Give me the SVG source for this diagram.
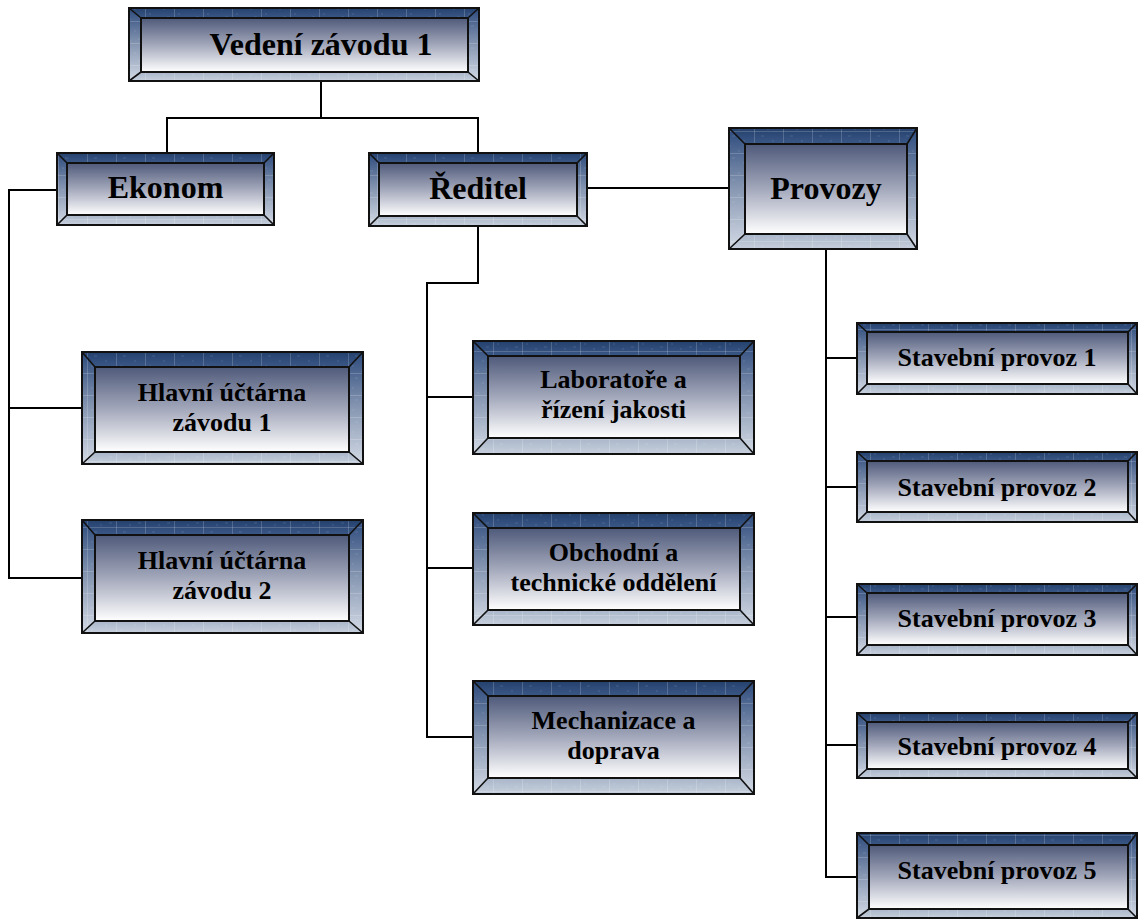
<svg xmlns="http://www.w3.org/2000/svg" width="1138" height="920" viewBox="0 0 1138 920">
  <defs>
    <linearGradient id="gFace" x1="0" y1="0" x2="0" y2="1">
      <stop offset="0" stop-color="#4f5a7a"/>
      <stop offset="0.5" stop-color="#a3a8bb"/>
      <stop offset="1" stop-color="#ffffff"/>
    </linearGradient>
    <linearGradient id="gTop" x1="0" y1="0" x2="0" y2="1">
      <stop offset="0" stop-color="#24416e"/>
      <stop offset="1" stop-color="#3a5786"/>
    </linearGradient>
    <linearGradient id="gSide" x1="0" y1="0" x2="0" y2="1">
      <stop offset="0" stop-color="#2c4a7c"/>
      <stop offset="0.5" stop-color="#8797b2"/>
      <stop offset="1" stop-color="#d3dae5"/>
    </linearGradient>
    <linearGradient id="gBottom" x1="0" y1="0" x2="0" y2="1">
      <stop offset="0" stop-color="#a9b6c9"/>
      <stop offset="1" stop-color="#c6cfdc"/>
    </linearGradient>
    <!-- faint stone-like grid on the frame bevels -->
    <pattern id="pGrain" width="29" height="22" patternUnits="userSpaceOnUse">
      <path d="M0.5 0V22M0 21.5H29" stroke="#ffffff" stroke-opacity="0.18" stroke-width="1" fill="none"/>
      <path d="M7 4h3M18 9h2M4 14h2M22 17h3M13 19h2" stroke="#ffffff" stroke-opacity="0.12" stroke-width="1"/>
    </pattern>
  </defs>
  <style>
    .bt { fill: url(#gTop); }
    .bs { fill: url(#gSide); }
    .bb { fill: url(#gBottom); }
    .grain { fill: url(#pGrain); fill-rule: evenodd; }
    .face { fill: url(#gFace); stroke: #111; stroke-width: 2; }
    .frame { fill: none; stroke: #111; stroke-width: 2; }
    .diag { stroke: #111; stroke-width: 1.6; }
    .conn { fill: none; stroke: #000; stroke-width: 2; }
    text { font-family: "Liberation Serif", "Times New Roman", serif; font-weight: bold; fill: #000; text-anchor: middle; }
    .big { font-size: 32px; }
    .small { font-size: 26px; }
  </style>

  <rect width="1138" height="920" fill="#ffffff"/>

  <g id="connectors">
    <path class="conn" d="M321 81V118M167 153V118H478V153"/>
    <path class="conn" d="M57 190H9V578H82M9 408H82"/>
    <path class="conn" d="M478 226V283H427V737H473M427 397H473M427 568H473"/>
    <path class="conn" d="M587 188H729"/>
    <path class="conn" d="M826 249V877H857M826 358H857M826 487H857M826 617H857M826 745H857"/>
  </g>

  <g id="n-vedeni">
    <polygon class="bt" points="129,8 479,8 468,18 141,18"/>
    <polygon class="bs" points="129,8 141,18 141,72 129,81"/>
    <polygon class="bs" points="479,8 479,81 468,72 468,18"/>
    <polygon class="bb" points="129,81 141,72 468,72 479,81"/>
    <path class="grain" d="M129 8H479V81H129ZM141 18H468V72H141Z"/>
    <rect class="face" x="141" y="18" width="327" height="54"/>
    <path class="diag" d="M129 8L141 18M479 8L468 18M129 81L141 72M479 81L468 72"/>
    <rect class="frame" x="129" y="8" width="350" height="73"/>
    <text class="big" x="321" y="55">Vedení závodu 1</text>
  </g>

  <g id="n-ekonom">
    <polygon class="bt" points="57,153 274,153 264,163 67,163"/>
    <polygon class="bs" points="57,153 67,163 67,215 57,225"/>
    <polygon class="bs" points="274,153 274,225 264,215 264,163"/>
    <polygon class="bb" points="57,225 67,215 264,215 274,225"/>
    <path class="grain" d="M57 153H274V225H57ZM67 163H264V215H67Z"/>
    <rect class="face" x="67" y="163" width="197" height="52"/>
    <path class="diag" d="M57 153L67 163M274 153L264 163M57 225L67 215M274 225L264 215"/>
    <rect class="frame" x="57" y="153" width="217" height="72"/>
    <text class="big" x="165.5" y="198">Ekonom</text>
  </g>

  <g id="n-reditel">
    <polygon class="bt" points="369,153 587,153 577,163 379,163"/>
    <polygon class="bs" points="369,153 379,163 379,216 369,226"/>
    <polygon class="bs" points="587,153 587,226 577,216 577,163"/>
    <polygon class="bb" points="369,226 379,216 577,216 587,226"/>
    <path class="grain" d="M369 153H587V226H369ZM379 163H577V216H379Z"/>
    <rect class="face" x="379" y="163" width="198" height="53"/>
    <path class="diag" d="M369 153L379 163M587 153L577 163M369 226L379 216M587 226L577 216"/>
    <rect class="frame" x="369" y="153" width="218" height="73"/>
    <text class="big" x="478" y="199">Ředitel</text>
  </g>

  <g id="n-provozy">
    <polygon class="bt" points="729,128 917,128 907,144 745,144"/>
    <polygon class="bs" points="729,128 745,144 745,234 729,249"/>
    <polygon class="bs" points="917,128 917,249 907,234 907,144"/>
    <polygon class="bb" points="729,249 745,234 907,234 917,249"/>
    <path class="grain" d="M729 128H917V249H729ZM745 144H907V234H745Z"/>
    <rect class="face" x="745" y="144" width="162" height="90"/>
    <path class="diag" d="M729 128L745 144M917 128L907 144M729 249L745 234M917 249L907 234"/>
    <rect class="frame" x="729" y="128" width="188" height="121"/>
    <text class="big" x="826" y="199">Provozy</text>
  </g>

  <g id="n-uctarna1">
    <polygon class="bt" points="82,352 363,352 349,367 95,367"/>
    <polygon class="bs" points="82,352 95,367 95,452 82,464"/>
    <polygon class="bs" points="363,352 363,464 349,452 349,367"/>
    <polygon class="bb" points="82,464 95,452 349,452 363,464"/>
    <path class="grain" d="M82 352H363V464H82ZM95 367H349V452H95Z"/>
    <rect class="face" x="95" y="367" width="254" height="85"/>
    <path class="diag" d="M82 352L95 367M363 352L349 367M82 464L95 452M363 464L349 452"/>
    <rect class="frame" x="82" y="352" width="281" height="112"/>
    <text class="small" x="222" y="401">Hlavní účtárna</text>
    <text class="small" x="222" y="431">závodu 1</text>
  </g>

  <g id="n-uctarna2">
    <polygon class="bt" points="82,520 363,520 349,535 95,535"/>
    <polygon class="bs" points="82,520 95,535 95,621 82,633"/>
    <polygon class="bs" points="363,520 363,633 349,621 349,535"/>
    <polygon class="bb" points="82,633 95,621 349,621 363,633"/>
    <path class="grain" d="M82 520H363V633H82ZM95 535H349V621H95Z"/>
    <rect class="face" x="95" y="535" width="254" height="86"/>
    <path class="diag" d="M82 520L95 535M363 520L349 535M82 633L95 621M363 633L349 621"/>
    <rect class="frame" x="82" y="520" width="281" height="113"/>
    <text class="small" x="222" y="569">Hlavní účtárna</text>
    <text class="small" x="222" y="599">závodu 2</text>
  </g>

  <g id="n-laboratore">
    <polygon class="bt" points="473,341 754,341 740,356 488,356"/>
    <polygon class="bs" points="473,341 488,356 488,438 473,454"/>
    <polygon class="bs" points="754,341 754,454 740,438 740,356"/>
    <polygon class="bb" points="473,454 488,438 740,438 754,454"/>
    <path class="grain" d="M473 341H754V454H473ZM488 356H740V438H488Z"/>
    <rect class="face" x="488" y="356" width="252" height="82"/>
    <path class="diag" d="M473 341L488 356M754 341L740 356M473 454L488 438M754 454L740 438"/>
    <rect class="frame" x="473" y="341" width="281" height="113"/>
    <text class="small" x="613.5" y="388">Laboratoře a</text>
    <text class="small" x="613.5" y="418">řízení jakosti</text>
  </g>

  <g id="n-obchodni">
    <polygon class="bt" points="473,513 754,513 740,528 488,528"/>
    <polygon class="bs" points="473,513 488,528 488,610 473,625"/>
    <polygon class="bs" points="754,513 754,625 740,610 740,528"/>
    <polygon class="bb" points="473,625 488,610 740,610 754,625"/>
    <path class="grain" d="M473 513H754V625H473ZM488 528H740V610H488Z"/>
    <rect class="face" x="488" y="528" width="252" height="82"/>
    <path class="diag" d="M473 513L488 528M754 513L740 528M473 625L488 610M754 625L740 610"/>
    <rect class="frame" x="473" y="513" width="281" height="112"/>
    <text class="small" x="613.5" y="561">Obchodní a</text>
    <text class="small" x="613.5" y="591">technické oddělení</text>
  </g>

  <g id="n-mechanizace">
    <polygon class="bt" points="473,681 754,681 740,696 488,696"/>
    <polygon class="bs" points="473,681 488,696 488,778 473,794"/>
    <polygon class="bs" points="754,681 754,794 740,778 740,696"/>
    <polygon class="bb" points="473,794 488,778 740,778 754,794"/>
    <path class="grain" d="M473 681H754V794H473ZM488 696H740V778H488Z"/>
    <rect class="face" x="488" y="696" width="252" height="82"/>
    <path class="diag" d="M473 681L488 696M754 681L740 696M473 794L488 778M754 794L740 778"/>
    <rect class="frame" x="473" y="681" width="281" height="113"/>
    <text class="small" x="613.5" y="729">Mechanizace a</text>
    <text class="small" x="613.5" y="759">doprava</text>
  </g>

  <g id="n-provoz1">
    <polygon class="bt" points="857,323 1137,323 1128,332 867,332"/>
    <polygon class="bs" points="857,323 867,332 867,384 857,394"/>
    <polygon class="bs" points="1137,323 1137,394 1128,384 1128,332"/>
    <polygon class="bb" points="857,394 867,384 1128,384 1137,394"/>
    <path class="grain" d="M857 323H1137V394H857ZM867 332H1128V384H867Z"/>
    <rect class="face" x="867" y="332" width="261" height="52"/>
    <path class="diag" d="M857 323L867 332M1137 323L1128 332M857 394L867 384M1137 394L1128 384"/>
    <rect class="frame" x="857" y="323" width="280" height="71"/>
    <text class="small" x="997" y="366">Stavební provoz 1</text>
  </g>

  <g id="n-provoz2">
    <polygon class="bt" points="857,452 1137,452 1128,461 867,461"/>
    <polygon class="bs" points="857,452 867,461 867,512 857,522"/>
    <polygon class="bs" points="1137,452 1137,522 1128,512 1128,461"/>
    <polygon class="bb" points="857,522 867,512 1128,512 1137,522"/>
    <path class="grain" d="M857 452H1137V522H857ZM867 461H1128V512H867Z"/>
    <rect class="face" x="867" y="461" width="261" height="51"/>
    <path class="diag" d="M857 452L867 461M1137 452L1128 461M857 522L867 512M1137 522L1128 512"/>
    <rect class="frame" x="857" y="452" width="280" height="70"/>
    <text class="small" x="997" y="496">Stavební provoz 2</text>
  </g>

  <g id="n-provoz3">
    <polygon class="bt" points="857,584 1137,584 1128,593 867,593"/>
    <polygon class="bs" points="857,584 867,593 867,645 857,655"/>
    <polygon class="bs" points="1137,584 1137,655 1128,645 1128,593"/>
    <polygon class="bb" points="857,655 867,645 1128,645 1137,655"/>
    <path class="grain" d="M857 584H1137V655H857ZM867 593H1128V645H867Z"/>
    <rect class="face" x="867" y="593" width="261" height="52"/>
    <path class="diag" d="M857 584L867 593M1137 584L1128 593M857 655L867 645M1137 655L1128 645"/>
    <rect class="frame" x="857" y="584" width="280" height="71"/>
    <text class="small" x="997" y="627">Stavební provoz 3</text>
  </g>

  <g id="n-provoz4">
    <polygon class="bt" points="857,713 1137,713 1128,722 867,722"/>
    <polygon class="bs" points="857,713 867,722 867,769 857,778"/>
    <polygon class="bs" points="1137,713 1137,778 1128,769 1128,722"/>
    <polygon class="bb" points="857,778 867,769 1128,769 1137,778"/>
    <path class="grain" d="M857 713H1137V778H857ZM867 722H1128V769H867Z"/>
    <rect class="face" x="867" y="722" width="261" height="47"/>
    <path class="diag" d="M857 713L867 722M1137 713L1128 722M857 778L867 769M1137 778L1128 769"/>
    <rect class="frame" x="857" y="713" width="280" height="65"/>
    <text class="small" x="997" y="755">Stavební provoz 4</text>
  </g>

  <g id="n-provoz5">
    <polygon class="bt" points="857,833 1137,833 1128,845 869,845"/>
    <polygon class="bs" points="857,833 869,845 869,909 857,918"/>
    <polygon class="bs" points="1137,833 1137,918 1128,909 1128,845"/>
    <polygon class="bb" points="857,918 869,909 1128,909 1137,918"/>
    <path class="grain" d="M857 833H1137V918H857ZM869 845H1128V909H869Z"/>
    <rect class="face" x="869" y="845" width="259" height="64"/>
    <path class="diag" d="M857 833L869 845M1137 833L1128 845M857 918L869 909M1137 918L1128 909"/>
    <rect class="frame" x="857" y="833" width="280" height="85"/>
    <text class="small" x="997" y="879">Stavební provoz 5</text>
  </g>
</svg>
